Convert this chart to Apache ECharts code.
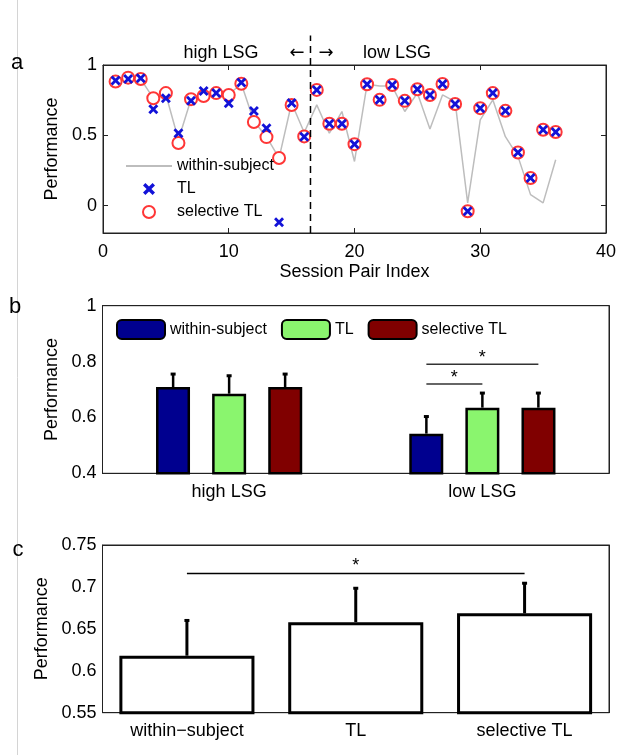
<!DOCTYPE html>
<html>
<head>
<meta charset="utf-8">
<script src="https://cdn.jsdelivr.net/npm/echarts@6/dist/echarts.min.js"></script>
<style>
html, body { margin: 0; background: #fff; }
#main { width: 619px; height: 755px; }
</style>
</head>
<body>
<div id="main"></div>
<script>
// ---- panel a: per session pair ----
const sessionIdx = [1, 2, 3, 4, 5, 6, 7, 8, 9, 10, 11, 12, 13, 14, 15, 16, 17, 18,
    19, 20, 21, 22, 23, 24, 25, 26, 27, 28, 29, 30, 31, 32, 33, 34, 35, 36];
const withinSubject = [0.88, 0.905, 0.90, 0.764, 0.79, 0.468, 0.757, 0.78, 0.80, 0.79, 0.867, 0.60,
    0.49, 0.338, 0.73, 0.52, 0.716, 0.515, 0.669, 0.314, 0.863, 0.85, 0.85, 0.669,
    0.80, 0.544, 0.787, 0.74, 0.019, 0.61, 0.752, 0.49, 0.35, 0.078, 0.019, 0.326];
const tlPerf = [0.89, 0.90, 0.905, 0.686, 0.764, 0.515, 0.745, 0.815, 0.80, 0.728, 0.875, 0.672,
    0.55, -0.118, 0.73, 0.49, 0.823, 0.582, 0.582, 0.437, 0.863, 0.752, 0.858, 0.745,
    0.827, 0.787, 0.865, 0.723, -0.04, 0.693, 0.80, 0.674, 0.378, 0.196, 0.539, 0.523];
const selectiveTl = [0.882, 0.91, 0.90, 0.764, 0.80, 0.445, 0.757, 0.78, 0.80, 0.787, 0.867, 0.595,
    0.487, 0.338, 0.716, 0.492, 0.823, 0.582, 0.582, 0.437, 0.863, 0.752, 0.858, 0.745,
    0.827, 0.787, 0.865, 0.723, -0.04, 0.693, 0.80, 0.674, 0.378, 0.196, 0.539, 0.523];
const aYTicks = [0, 0.5, 1];
const lsgSplit = 16.5;

// ---- panel b: by LSG group ----
const groups = ['high LSG', 'low LSG'];
const methods = ['within-subject', 'TL', 'selective TL'];
const bMean = [[0.709, 0.542], [0.685, 0.635], [0.709, 0.635]];
const bErrTop = [[0.757, 0.605], [0.751, 0.689], [0.757, 0.689]];
const bSig = [[1, 0, 1, 0.72], [1, 0, 2, 0.79]]; // group, from method, to method, height

// ---- panel c: all sessions ----
const cCats = ['within\u2212subject', 'TL', 'selective TL'];
const cMean = [0.618, 0.658, 0.6685];
const cErrTop = [0.6606, 0.699, 0.705];
const cSig = [[0, 2, 0.716]];

const font = 'Liberation Sans, Arial, Helvetica, sans-serif';
const barColors = ['#00008f', '#8af56e', '#800000'];
const bBarWidth = 34;
const bBarStep = 56; // bar width + gap between bar centres
const xMark = 'path://M0,2 L2,0 L5,3 L8,0 L10,2 L7,5 L10,8 L8,10 L5,7 L2,10 L0,8 L3,5 Z';

const axisLineStyle = { color: '#222', width: 1 };
const tickIn = { inside: true, length: 5, lineStyle: { color: '#222' } };

function pairs(xs, ys) {
    return xs.map((x, i) => [x, ys[i]]);
}

function errBar(offset, width) {
    return function (params, api) {
        const base = api.coord([api.value(0), api.value(1)]);
        const top = api.coord([api.value(0), api.value(2)]);
        const x = base[0] + offset;
        return {
            type: 'group',
            children: [{
                type: 'line',
                shape: { x1: x, y1: base[1], x2: x, y2: top[1] },
                style: { stroke: '#000', lineWidth: width }
            }, {
                type: 'rect',
                shape: { x: x - 2.5, y: top[1] - 1, width: 5, height: 3 },
                style: { fill: '#000' }
            }]
        };
    };
}

function starText(x, y) {
    return {
        type: 'text',
        x: x, y: y,
        style: { text: '*', fill: '#000', font: '18px ' + font, align: 'center', verticalAlign: 'middle' }
    };
}

const chart = echarts.init(document.getElementById('main'), null, { renderer: 'canvas' });

const series = [];

// panel a
series.push({
    name: 'within-subject', type: 'line', xAxisIndex: 0, yAxisIndex: 0,
    data: pairs(sessionIdx, withinSubject),
    symbol: 'none', showSymbol: false,
    lineStyle: { color: '#bdbdbd', width: 1.5 },
    itemStyle: { color: '#bdbdbd' },
    z: 2
});
series.push({
    name: 'selective TL', type: 'scatter', xAxisIndex: 0, yAxisIndex: 0,
    data: pairs(sessionIdx, selectiveTl),
    symbol: 'emptyCircle', symbolSize: 12,
    itemStyle: { color: '#ff3636', borderColor: '#ff3636', borderWidth: 3.5, opacity: 1 },
    z: 3
});
series.push({
    name: 'TL', type: 'scatter', xAxisIndex: 0, yAxisIndex: 0,
    data: pairs(sessionIdx, tlPerf),
    symbol: xMark, symbolSize: 10,
    itemStyle: { color: '#1212d8', opacity: 1 },
    z: 4
});
series.push({
    type: 'custom', xAxisIndex: 0, yAxisIndex: 0, clip: false, silent: true,
    data: [[lsgSplit, -0.195, 1.21]],
    renderItem: function (params, api) {
        const p1 = api.coord([api.value(0), api.value(1)]);
        const p2 = api.coord([api.value(0), api.value(2)]);
        return {
            type: 'line',
            shape: { x1: p1[0], y1: p1[1], x2: p2[0], y2: p2[1] },
            style: { stroke: '#000', lineWidth: 1.5, lineDash: [7, 5] }
        };
    },
    z: 5
});

// panel b
methods.forEach(function (m, s) {
    series.push({
        name: 'b:' + m, type: 'bar', xAxisIndex: 2, yAxisIndex: 2,
        data: bMean[s],
        barWidth: bBarWidth, barGap: '65%',
        itemStyle: { color: barColors[s], borderColor: '#000', borderWidth: 2.5 },
        z: 2
    });
    series.push({
        type: 'custom', xAxisIndex: 2, yAxisIndex: 2, silent: true,
        data: groups.map((g, i) => [i, bMean[s][i], bErrTop[s][i]]),
        encode: { x: 0, y: 1 },
        renderItem: errBar((s - 1) * bBarStep, 2.5),
        z: 4
    });
});
series.push({
    type: 'custom', xAxisIndex: 2, yAxisIndex: 2, silent: true,
    data: bSig,
    encode: { x: 0, y: 3 },
    renderItem: function (params, api) {
        const p = api.coord([api.value(0), api.value(3)]);
        const x1 = p[0] + (api.value(1) - 1) * bBarStep;
        const x2 = p[0] + (api.value(2) - 1) * bBarStep;
        return {
            type: 'group',
            children: [{
                type: 'line',
                shape: { x1: x1, y1: p[1], x2: x2, y2: p[1] },
                style: { stroke: '#333', lineWidth: 1.5 }
            }, starText((x1 + x2) / 2, p[1] - 6)]
        };
    },
    z: 5
});

// panel c
series.push({
    name: 'c', type: 'bar', xAxisIndex: 4, yAxisIndex: 4,
    data: cMean,
    barWidth: '80%',
    itemStyle: { color: '#fff', borderColor: '#000', borderWidth: 3 },
    z: 2
});
series.push({
    type: 'custom', xAxisIndex: 4, yAxisIndex: 4, silent: true,
    data: cCats.map((c, i) => [i, cMean[i], cErrTop[i]]),
    encode: { x: 0, y: 1 },
    renderItem: errBar(0, 3),
    z: 4
});
series.push({
    type: 'custom', xAxisIndex: 4, yAxisIndex: 4, silent: true,
    data: cSig,
    encode: { x: 0, y: 2 },
    renderItem: function (params, api) {
        const p1 = api.coord([api.value(0), api.value(2)]);
        const p2 = api.coord([api.value(1), api.value(2)]);
        return {
            type: 'group',
            children: [{
                type: 'line',
                shape: { x1: p1[0], y1: p1[1], x2: p2[0], y2: p2[1] },
                style: { stroke: '#000', lineWidth: 1.5 }
            }, starText((p1[0] + p2[0]) / 2, p1[1] - 7)]
        };
    },
    z: 5
});

const labelStyle = { fontSize: 18, color: '#000', fontFamily: font };

const option = {
    animation: false,
    backgroundColor: '#fff',
    textStyle: { fontFamily: font },
    grid: [
        { left: 103, top: 65, width: 504, height: 168, show: true, borderColor: '#222', borderWidth: 1 },
        { left: 102.5, top: 305.7, width: 506.5, height: 167.6, show: true, borderColor: '#222', borderWidth: 1 },
        { left: 102.5, top: 545, width: 506.5, height: 167.7, show: true, borderColor: '#222', borderWidth: 1 }
    ],
    xAxis: [
        {
            gridIndex: 0, type: 'value', min: 0, max: 40, interval: 10,
            axisLine: { onZero: false, lineStyle: axisLineStyle }, axisTick: tickIn, splitLine: { show: false },
            axisLabel: Object.assign({ margin: 10 }, labelStyle),
            name: 'Session Pair Index', nameLocation: 'middle', nameGap: 30, nameTextStyle: labelStyle
        },
        {
            gridIndex: 0, type: 'value', position: 'top', min: 0, max: 40, interval: 10,
            axisLine: { onZero: false, lineStyle: axisLineStyle }, axisTick: tickIn,
            splitLine: { show: false }, axisLabel: { show: false }
        },
        {
            gridIndex: 1, type: 'category', data: groups,
            axisLine: { onZero: false, lineStyle: axisLineStyle },
            axisTick: Object.assign({ alignWithLabel: true }, tickIn),
            axisLabel: Object.assign({ margin: 10 }, labelStyle)
        },
        {
            gridIndex: 1, type: 'category', data: groups, position: 'top',
            axisLine: { onZero: false, lineStyle: axisLineStyle },
            axisTick: Object.assign({ alignWithLabel: true }, tickIn), axisLabel: { show: false }
        },
        {
            gridIndex: 2, type: 'category', data: cCats,
            axisLine: { onZero: false, lineStyle: axisLineStyle },
            axisTick: Object.assign({ alignWithLabel: true }, tickIn),
            axisLabel: Object.assign({ margin: 9 }, labelStyle)
        },
        {
            gridIndex: 2, type: 'category', data: cCats, position: 'top',
            axisLine: { onZero: false, lineStyle: axisLineStyle },
            axisTick: Object.assign({ alignWithLabel: true }, tickIn), axisLabel: { show: false }
        }
    ],
    yAxis: [
        {
            gridIndex: 0, type: 'value', min: -0.195, max: 1,
            axisLine: { show: true, onZero: false, lineStyle: axisLineStyle },
            axisTick: Object.assign({ customValues: aYTicks }, tickIn),
            axisLabel: Object.assign({ customValues: aYTicks, margin: 6 }, labelStyle),
            splitLine: { show: false },
            name: 'Performance', nameLocation: 'middle', nameGap: 40, nameTextStyle: labelStyle
        },
        {
            gridIndex: 0, type: 'value', min: -0.195, max: 1, position: 'right',
            axisLine: { show: true, onZero: false, lineStyle: axisLineStyle },
            axisTick: Object.assign({ customValues: aYTicks }, tickIn),
            axisLabel: { show: false }, splitLine: { show: false }
        },
        {
            gridIndex: 1, type: 'value', min: 0.4, max: 1, interval: 0.2,
            axisLine: { show: true, onZero: false, lineStyle: axisLineStyle }, axisTick: tickIn,
            axisLabel: Object.assign({ margin: 6 }, labelStyle), splitLine: { show: false },
            name: 'Performance', nameLocation: 'middle', nameGap: 40, nameTextStyle: labelStyle
        },
        {
            gridIndex: 1, type: 'value', min: 0.4, max: 1, interval: 0.2, position: 'right',
            axisLine: { show: true, onZero: false, lineStyle: axisLineStyle }, axisTick: tickIn,
            axisLabel: { show: false }, splitLine: { show: false }
        },
        {
            gridIndex: 2, type: 'value', min: 0.55, max: 0.75, interval: 0.05,
            axisLine: { show: true, onZero: false, lineStyle: axisLineStyle }, axisTick: tickIn,
            axisLabel: Object.assign({ margin: 6 }, labelStyle), splitLine: { show: false },
            name: 'Performance', nameLocation: 'middle', nameGap: 50, nameTextStyle: labelStyle
        },
        {
            gridIndex: 2, type: 'value', min: 0.55, max: 0.75, interval: 0.05, position: 'right',
            axisLine: { show: true, onZero: false, lineStyle: axisLineStyle }, axisTick: tickIn,
            axisLabel: { show: false }, splitLine: { show: false }
        }
    ],
    legend: [
        {
            data: [
                { name: 'within-subject', itemStyle: { opacity: 0 } },
                'TL',
                { name: 'selective TL', itemStyle: { borderWidth: 3.5 } }
            ],
            orient: 'vertical', left: 125, top: 158, padding: 0,
            itemWidth: 46, itemHeight: 12, itemGap: 7,
            selectedMode: false,
            textStyle: { fontSize: 16, color: '#000', fontFamily: font, lineHeight: 16 }
        },
        {
            data: methods.map(m => 'b:' + m),
            orient: 'horizontal', left: 116, top: 319, padding: 0,
            itemWidth: 48, itemHeight: 19, itemGap: 14,
            selectedMode: false,
            formatter: function (name) { return name.replace(/^b:/, ''); },
            textStyle: { fontSize: 16, color: '#000', fontFamily: font }
        }
    ],
    graphic: [
        { type: 'line', shape: { x1: 17.5, y1: 0, x2: 17.5, y2: 755 }, style: { stroke: '#d4d4d4', lineWidth: 1 }, z: -1 },
        { type: 'text', x: 17, y: 63, style: { text: 'a', font: '22px ' + font, fill: '#000', align: 'center', verticalAlign: 'middle' } },
        { type: 'text', x: 15, y: 307, style: { text: 'b', font: '22px ' + font, fill: '#000', align: 'center', verticalAlign: 'middle' } },
        { type: 'text', x: 18, y: 550, style: { text: 'c', font: '22px ' + font, fill: '#000', align: 'center', verticalAlign: 'middle' } },
        { type: 'text', x: 221, y: 53, style: { text: 'high LSG', font: '18px ' + font, fill: '#000', align: 'center', verticalAlign: 'middle' } },
        { type: 'text', x: 297, y: 53, style: { text: '\u2190', font: '18px DejaVu Sans', fill: '#000', align: 'center', verticalAlign: 'middle' } },
        { type: 'text', x: 326, y: 53, style: { text: '\u2192', font: '18px DejaVu Sans', fill: '#000', align: 'center', verticalAlign: 'middle' } },
        { type: 'text', x: 397, y: 53, style: { text: 'low LSG', font: '18px ' + font, fill: '#000', align: 'center', verticalAlign: 'middle' } }
    ],
    series: series
};

try {
    chart.setOption(option);
} catch (error) {
    console.error('Error setting chart option:', error);
}
</script>
</body>
</html>
